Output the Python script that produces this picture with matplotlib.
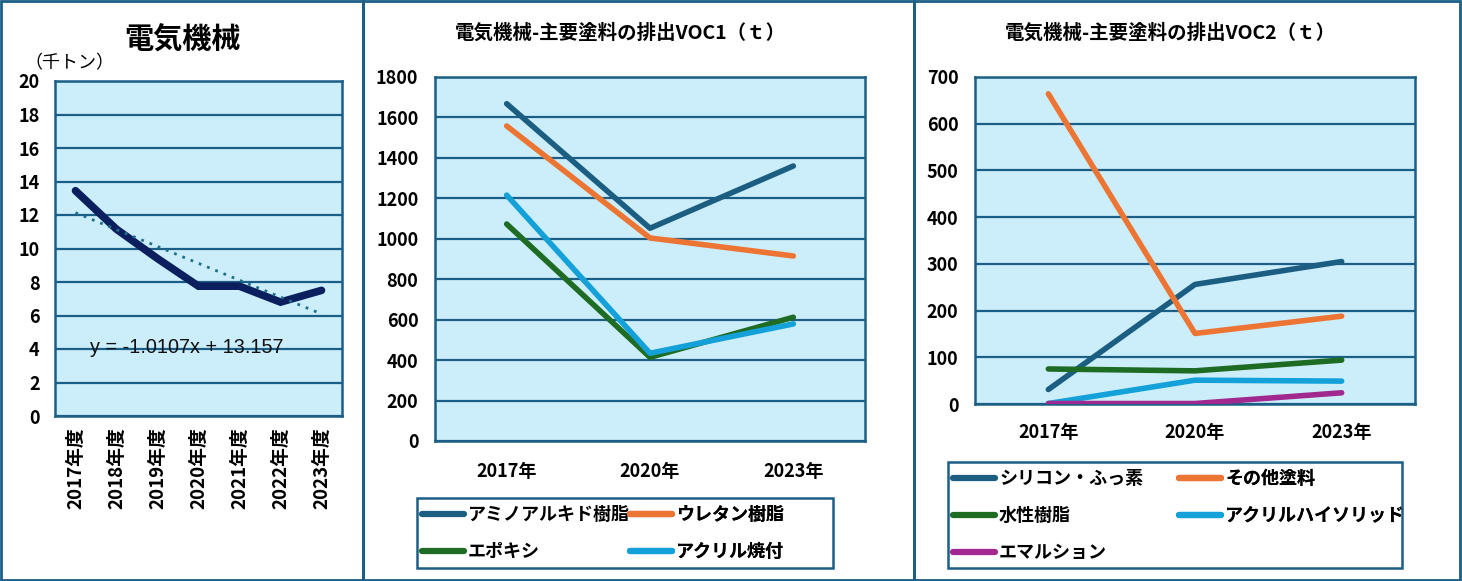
import matplotlib
matplotlib.use("Agg")
import matplotlib.pyplot as plt
import matplotlib.patches as mpatches
import numpy as np

plt.rcParams['font.family'] = ['Noto Sans CJK JP', 'DejaVu Sans']

# ---------------- data ----------------
years1 = ["2017年度", "2018年度", "2019年度", "2020年度", "2021年度", "2022年度", "2023年度"]
total = [13.45, 11.15, 9.4, 7.75, 7.75, 6.8, 7.5]
trend_label = "y = -1.0107x + 13.157"

years2 = ["2017年", "2020年", "2023年"]
voc1_names = ["アミノアルキド樹脂", "ウレタン樹脂", "エポキシ", "アクリル焼付"]
amino = [1668, 1052, 1360]
urethane = [1558, 1004, 915]
epoxy = [1073, 414, 612]
acryl_bake = [1216, 434, 579]

voc2_names = ["シリコン・ふっ素", "その他塗料", "水性樹脂", "アクリルハイソリッド", "エマルション"]
silicone = [31, 256, 305]
other = [664, 151, 188]
water = [75, 71, 94]
acryl_hs = [1, 51, 49]
emulsion = [1, 1, 24]

# ---------------- style ----------------
W, H = 1462, 581
BORDER = '#1B5E86'
BG = '#CCEEFB'
GRID = '#1B5E86'
NAVY = '#0B1F5E'
C_AMINO = '#1B5E82'
C_ORANGE = '#ED7534'
C_GREEN = '#1E6B23'
C_LBLUE = '#14A0D8'
C_MAG = '#A0288F'

fig = plt.figure(figsize=(W / 100, H / 100), dpi=100)
fig.patch.set_facecolor('white')

def px_axes(l, t, r, b):
    return fig.add_axes([l / W, 1 - b / H, (r - l) / W, (b - t) / H])

def px_rect(x0, y0, x1, y1, lw):
    fig.patches.append(mpatches.Rectangle((x0 / W, 1 - y1 / H), (x1 - x0) / W, (y1 - y0) / H,
                                          transform=fig.transFigure, fill=False,
                                          edgecolor=BORDER, linewidth=lw, zorder=0))

# panel borders
for (x0, x1) in [(1, 363), (363, 914), (914, 1460)]:
    px_rect(x0, 1, x1, H - 1, 2)

def style_ax(ax, ymax, step):
    ax.set_facecolor(BG)
    for s in ax.spines.values():
        s.set_color(BORDER)
        s.set_linewidth(1.8)
    ax.set_ylim(0, ymax)
    ax.set_yticks(np.arange(0, ymax + 1e-9, step))
    ax.yaxis.grid(True, color=GRID, linewidth=1.6)
    ax.set_axisbelow(True)
    ax.tick_params(length=0, labelsize=13, pad=12)
    for lab in ax.get_yticklabels() + ax.get_xticklabels():
        lab.set_fontweight('bold')

def make_legend(ax, box, col_x, top_y):
    """Legend in a frame with two equal-width columns, entries read row by row."""
    h, l = ax.get_legend_handles_labels()
    px_rect(*box, 1.8)
    for c, x in enumerate(col_x):
        hh, ll = h[c::2], l[c::2]
        leg = ax.legend(hh, ll, loc='upper left',
                        bbox_to_anchor=(x / W, 1 - top_y / H),
                        bbox_transform=fig.transFigure, frameon=False,
                        fontsize=13, handlelength=2.3, handletextpad=0.25, borderaxespad=0,
                        labelspacing=1.0, borderpad=0)
        for t in leg.get_texts():
            t.set_fontweight('bold')
        for ln in leg.get_lines():
            ln.set_linewidth(4.5)
            ln.set_solid_capstyle('round')
        ax.add_artist(leg)

# ---------------- panel 1 ----------------
ax1 = px_axes(55, 81, 342, 416)
x1 = np.arange(len(years1))
ax1.plot(x1, total, color=NAVY, linewidth=5.5, solid_joinstyle='miter', solid_capstyle='round', zorder=3)
coef = np.polyfit(x1 + 1, total, 1)
ax1.plot(x1, np.polyval(coef, x1 + 1), color='#1F6F8B', linestyle=(0, (1, 2.2)), linewidth=2, zorder=4)
ax1.set_xlim(-0.5, len(years1) - 0.5)
ax1.set_xticks(x1)
ax1.set_xticklabels(years1, rotation=90)
style_ax(ax1, 20, 2)
ax1.tick_params(axis='y', pad=11)
ax1.tick_params(axis='x', labelsize=13.5, pad=8)
for lab in ax1.get_xticklabels():
    lab.set_fontweight('bold')
ax1.text(0.122, 0.205, trend_label, transform=ax1.transAxes, fontsize=14.3,
         family=['Liberation Sans', 'DejaVu Sans'], color='#111111', va='center', ha='left')
fig.text(183 / W, 1 - 40 / H, "電気機械", fontsize=21, fontweight='bold', ha='center', va='center')
fig.text(24 / W, 1 - 63 / H, "（千トン）", fontsize=13, ha='left', va='center')

# ---------------- panel 2 ----------------
ax2 = px_axes(435, 77, 865, 441)
x2 = np.arange(len(years2))
for vals, c, n in zip([amino, urethane, epoxy, acryl_bake], [C_AMINO, C_ORANGE, C_GREEN, C_LBLUE], voc1_names):
    ax2.plot(x2, vals, color=c, linewidth=4, solid_capstyle='round', zorder=3, label=n)
ax2.set_xlim(-0.5, 2.5)
ax2.set_xticks(x2)
ax2.set_xticklabels(years2)
style_ax(ax2, 1800, 200)
ax2.tick_params(axis='x', pad=15)
fig.text(620 / W, 1 - 33 / H, "電気機械-主要塗料の排出VOC1（ｔ）", fontsize=14, fontweight='bold',
         ha='center', va='center')
make_legend(ax2, (417, 498, 833, 568), (422, 630), 505)

# ---------------- panel 3 ----------------
ax3 = px_axes(975, 77, 1415, 404)
for vals, c, n in zip([silicone, other, water, acryl_hs, emulsion],
                      [C_AMINO, C_ORANGE, C_GREEN, C_LBLUE, C_MAG], voc2_names):
    ax3.plot(x2, vals, color=c, linewidth=4, solid_capstyle='round', zorder=3, label=n)
ax3.set_xlim(-0.5, 2.5)
ax3.set_xticks(x2)
ax3.set_xticklabels(years2)
style_ax(ax3, 700, 100)
ax3.tick_params(axis='x', pad=14)
fig.text(1170 / W, 1 - 33 / H, "電気機械-主要塗料の排出VOC2（ｔ）", fontsize=14, fontweight='bold',
         ha='center', va='center')
make_legend(ax3, (948, 462, 1402, 568), (953, 1179), 469)

fig.savefig("out.png", dpi=100, facecolor='white')
